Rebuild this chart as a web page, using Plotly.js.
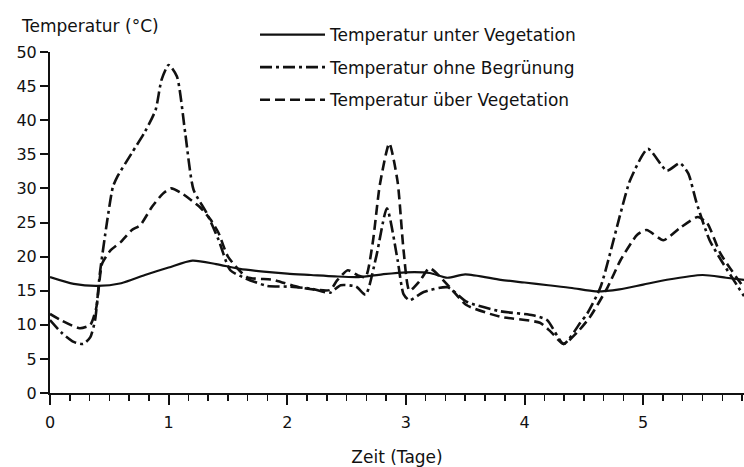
<!DOCTYPE html>
<html>
<head>
<meta charset="utf-8">
<script src="https://cdn.plot.ly/plotly-3.0.1.min.js"></script>
<style>html,body{margin:0;padding:0;background:#fff;}#chart{width:744px;height:467px;}</style>
</head>
<body>
<div id="chart"></div>
<script>
// Series names
const seriesNames = ["Temperatur unter Vegetation", "Temperatur ohne Begrünung", "Temperatur über Vegetation"];

// Temperatur unter Vegetation (solid)
const unterX = [0, 0.2, 0.4, 0.6, 0.8, 1.0, 1.2, 1.4, 1.6, 1.8, 2.0, 2.2, 2.4, 2.6, 2.8, 3.0, 3.2, 3.35, 3.5, 3.8, 4.0, 4.2, 4.4, 4.6, 4.8, 5.0, 5.2, 5.5, 5.7, 5.85];
const unterY = [17.0, 16.0, 15.7, 16.1, 17.3, 18.4, 19.4, 18.9, 18.2, 17.8, 17.5, 17.3, 17.1, 17.0, 17.4, 17.7, 17.6, 16.9, 17.4, 16.6, 16.2, 15.8, 15.4, 14.9, 15.2, 15.9, 16.6, 17.3, 16.9, 16.6];

// Temperatur ohne Begrünung (dash-dot)
const ohneX = [0, 0.1, 0.2, 0.28, 0.34, 0.38, 0.42, 0.48, 0.53, 0.57, 0.69, 0.8, 0.89, 0.94, 1.0, 1.07, 1.14, 1.21, 1.32, 1.42, 1.52, 1.65, 1.83, 2.0, 2.2, 2.36, 2.45, 2.58, 2.66, 2.75, 2.84, 2.93, 2.98, 3.03, 3.15, 3.35, 3.51, 3.79, 4.07, 4.19, 4.33, 4.47, 4.53, 4.64, 4.81, 4.89, 5.04, 5.2, 5.31, 5.38, 5.45, 5.56, 5.67, 5.85];
const ohneY = [10.7, 8.8, 7.5, 7.2, 8.2, 10.7, 17.5, 25.0, 30.2, 31.8, 35.2, 38.3, 41.5, 45.9, 48.1, 46.4, 38.1, 29.8, 26.4, 22.5, 18.0, 16.8, 15.7, 15.6, 15.3, 14.7, 15.8, 15.6, 14.4, 20.0, 27.1, 19.5, 14.5, 13.6, 14.8, 15.5, 13.4, 12.0, 11.4, 10.7, 7.2, 10.3, 11.7, 15.5, 26.4, 31.2, 35.8, 32.6, 33.7, 32.2, 27.9, 22.4, 19.1, 14.2];

// Temperatur über Vegetation (dashed)
const ueberX = [0, 0.1, 0.25, 0.34, 0.39, 0.44, 0.51, 0.6, 0.69, 0.76, 0.86, 0.95, 1.02, 1.1, 1.26, 1.35, 1.42, 1.5, 1.66, 1.88, 2.1, 2.36, 2.42, 2.51, 2.6, 2.66, 2.72, 2.78, 2.86, 2.93, 2.98, 3.03, 3.12, 3.2, 3.37, 3.51, 3.79, 4.13, 4.22, 4.33, 4.45, 4.55, 4.7, 4.81, 4.95, 5.03, 5.17, 5.31, 5.46, 5.54, 5.65, 5.85];
const ueberY = [11.6, 10.6, 9.5, 10.0, 12.5, 19.0, 20.9, 22.2, 23.9, 24.6, 27.3, 29.2, 30.0, 29.4, 27.3, 25.5, 23.5, 20.0, 17.0, 16.6, 15.5, 15.1, 16.5, 18.0, 17.2, 17.0, 22.0, 30.5, 36.6, 31.0, 21.0, 15.0, 16.5, 18.3, 15.5, 12.9, 11.2, 10.3, 9.0, 7.2, 9.0, 11.1, 15.5, 19.5, 23.2, 23.9, 22.4, 24.2, 25.8, 24.9, 20.5, 15.4];

// Tick labels
const xTickVals = [0, 1, 2, 3, 4, 5];
const xTickText = ["0", "1", "2", "3", "4", "5"];
const yTickVals = [0, 5, 10, 15, 20, 25, 30, 35, 40, 45, 50];
const yTickText = ["0", "5", "10", "15", "20", "25", "30", "35", "40", "45", "50"];

const ink = "#111111";
const fontFam = "DejaVu Sans, Arial, sans-serif";
const plotL = 50, plotR = 744, plotT = 52, plotB = 393;
const pw = plotR - plotL, ph = plotB - plotT;

const traces = [
  {x: unterX, y: unterY, name: seriesNames[0], legendgroup: "a", mode: "lines",
   line: {color: ink, width: 2.2, shape: "spline", smoothing: 0.7}},
  {x: ohneX, y: ohneY, name: seriesNames[1], legendgroup: "b", mode: "lines",
   line: {color: ink, width: 2.6, dash: "12px,4px,3px,4px", shape: "spline", smoothing: 0.6}},
  {x: ueberX, y: ueberY, name: seriesNames[2], legendgroup: "c", mode: "lines",
   line: {color: ink, width: 2.6, dash: "10px,5px", shape: "spline", smoothing: 0.6}}
];

const layout = {
  width: 744, height: 467,
  margin: {l: plotL, r: 744 - plotR, t: plotT, b: 467 - plotB, autoexpand: false},
  paper_bgcolor: "#ffffff", plot_bgcolor: "#ffffff",
  font: {family: fontFam, size: 17, color: ink},
  showlegend: true,
  legend: {
    xref: "paper", yref: "paper",
    x: (255 - plotL) / pw, y: 1 + (plotT - 17) / ph, xanchor: "left", yanchor: "top",
    bgcolor: "rgba(0,0,0,0)", borderwidth: 0,
    itemwidth: 65,
    font: {family: fontFam, size: 17, color: ink},
    tracegroupgap: 7.5
  },
  xaxis: {
    range: [0, 5.85], showgrid: false, zeroline: false,
    showline: true, linecolor: ink, linewidth: 2,
    ticks: "outside", ticklen: 10, tickwidth: 2, tickcolor: ink,
    tickvals: xTickVals, ticktext: xTickText,
    tickfont: {size: 16}, ticklabelstandoff: 4,
    minor: {dtick: 1 / 6, ticks: "outside", ticklen: 6, tickwidth: 1.5, tickcolor: ink, showgrid: false},
    title: {text: "Zeit (Tage)", font: {size: 17}, standoff: 20}
  },
  yaxis: {
    range: [0, 50], showgrid: false, zeroline: false,
    showline: true, linecolor: ink, linewidth: 2,
    ticks: "outside", ticklen: 8, tickwidth: 2, tickcolor: ink,
    tickvals: yTickVals, ticktext: yTickText,
    tickfont: {size: 16}
  },
  annotations: [
    {text: "Temperatur (°C)", xref: "paper", yref: "paper", x: 0, y: 1,
     xanchor: "left", yanchor: "middle", xshift: -31, yshift: 26, showarrow: false,
     font: {family: fontFam, size: 17, color: ink}}
  ]
};

Plotly.newPlot("chart", traces, layout, {staticPlot: true, displayModeBar: false});
</script>
</body>
</html>
